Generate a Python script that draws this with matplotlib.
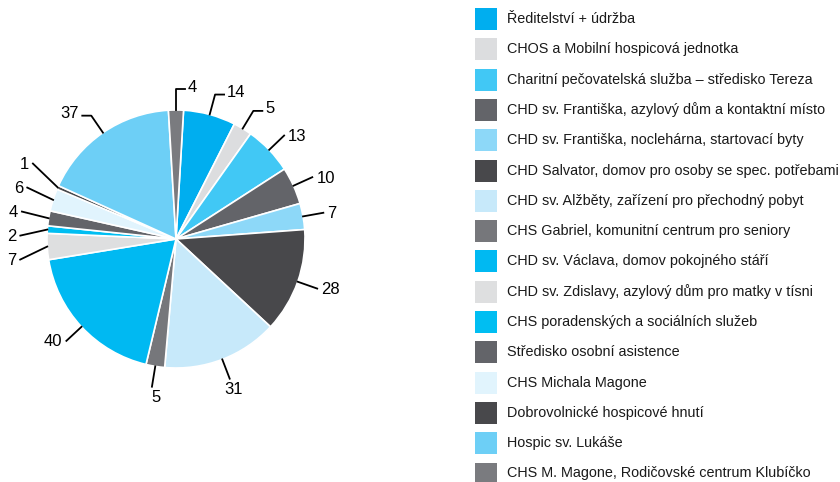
import numpy as np
import matplotlib.pyplot as plt
from matplotlib.patches import Rectangle

plt.rcParams['font.family'] = ['Liberation Sans', 'DejaVu Sans']

# střediska a počty (po směru hodinových ručiček, od vrcholu)
strediska = [
    'Ředitelství + údržba',
    'CHOS a Mobilní hospicová jednotka',
    'Charitní pečovatelská služba – středisko Tereza',
    'CHD sv. Františka, azylový dům a kontaktní místo',
    'CHD sv. Františka, noclehárna, startovací byty',
    'CHD Salvator, domov pro osoby se spec. potřebami',
    'CHD sv. Alžběty, zařízení pro přechodný pobyt',
    'CHS Gabriel, komunitní centrum pro seniory',
    'CHD sv. Václava, domov pokojného stáří',
    'CHD sv. Zdislavy, azylový dům pro matky v tísni',
    'CHS poradenských a sociálních služeb',
    'Středisko osobní asistence',
    'CHS Michala Magone',
    'Dobrovolnické hospicové hnutí',
    'Hospic sv. Lukáše',
    'CHS M. Magone, Rodičovské centrum Klubíčko',
]
pocty = [14, 5, 13, 10, 7, 28, 31, 5, 40, 7, 2, 4, 6, 1, 37, 4]
barvy = ['#00aeef', '#dcdddf', '#41c8f5', '#636469', '#8dd8f8', '#48484b',
         '#c7e9fa', '#76777b', '#00b9f2', '#dedfe0', '#00bef2', '#636469',
         '#e1f4fd', '#48484b', '#6dcff6', '#7a7b7f']

W, H = 840, 482
fig = plt.figure(figsize=(W / 100, H / 100), dpi=100)
ax = fig.add_axes([0, 0, 1, 1])

cx, cy, R = 176, H - 239, 129
start = 90 - pocty[-1] / sum(pocty) * 180

wedges, _ = ax.pie(pocty, colors=barvy, startangle=start, counterclock=False,
                   center=(cx, cy), radius=R,
                   wedgeprops=dict(edgecolor='white', linewidth=1.2))
ax.set_xlim(0, W)
ax.set_ylim(0, H)
ax.set_aspect('auto')
ax.axis('off')

# popisky - konec vodici cary
labs = []
for w, v in zip(wedges, pocty):
    a = np.deg2rad((w.theta1 + w.theta2) / 2)
    re = (1.21 if np.cos(a) < -0.8 else 1.16) * R
    labs.append({'a': a, 'v': v, 're': re, 'y': cy + re * np.sin(a)})

# rozhozeni prekryvajicich se popisku na bocich
gap = 24
for side in (-1, 1):
    grp = [l for l in labs if np.sign(np.cos(l['a'])) == side and abs(np.sin(l['a'])) < 0.5]
    grp.sort(key=lambda l: l['y'])
    for _ in range(10):
        clusters = [[grp[0]]] if grp else []
        for l in grp[1:]:
            if l['y'] - clusters[-1][-1]['y'] < gap:
                clusters[-1].append(l)
            else:
                clusters.append([l])
        for c in clusters:
            m = np.mean([l['y'] for l in c])
            n = len(c)
            for i, l in enumerate(c):
                l['y'] = m + (i - (n - 1) / 2) * gap

for l in labs:
    a = l['a']
    x0, y0 = cx + R * np.cos(a), cy + R * np.sin(a)
    ex, ey = cx + l['re'] * np.cos(a), l['y']
    s = 1 if np.cos(a) > -0.05 else -1
    if np.sin(a) < -0.9:
        # dole - text pod carou
        ax.plot([x0, ex], [y0, ey], color='black', lw=1.3)
        ax.text(ex + 4, ey - 3, str(l['v']), ha='center', va='top', fontsize=12)
    elif np.sin(a) > 0.7:
        # nahore - cara s lomem
        ax.plot([x0, ex, ex + s * 9], [y0, ey, ey], color='black', lw=1.3)
        ax.text(ex + s * 12, ey + 2, str(l['v']), ha='left' if s > 0 else 'right',
                va='center', fontsize=12)
    else:
        ax.plot([x0, ex], [y0, ey], color='black', lw=1.3)
        ax.text(ex + s * 4, ey - 1, str(l['v']), ha='left' if s > 0 else 'right',
                va='center', fontsize=12)

# legenda
lx, ly0, dy, sq = 475, 19, 30.3, 22
for i, (lab, c) in enumerate(zip(strediska, barvy)):
    yc = H - (ly0 + i * dy)
    ax.add_patch(Rectangle((lx, yc - sq / 2), sq, sq, facecolor=c, edgecolor='none'))
    ax.text(lx + 32, yc, lab, ha='left', va='center', fontsize=10.4, color='#1a1a1a')

fig.savefig('out.png', dpi=100)
